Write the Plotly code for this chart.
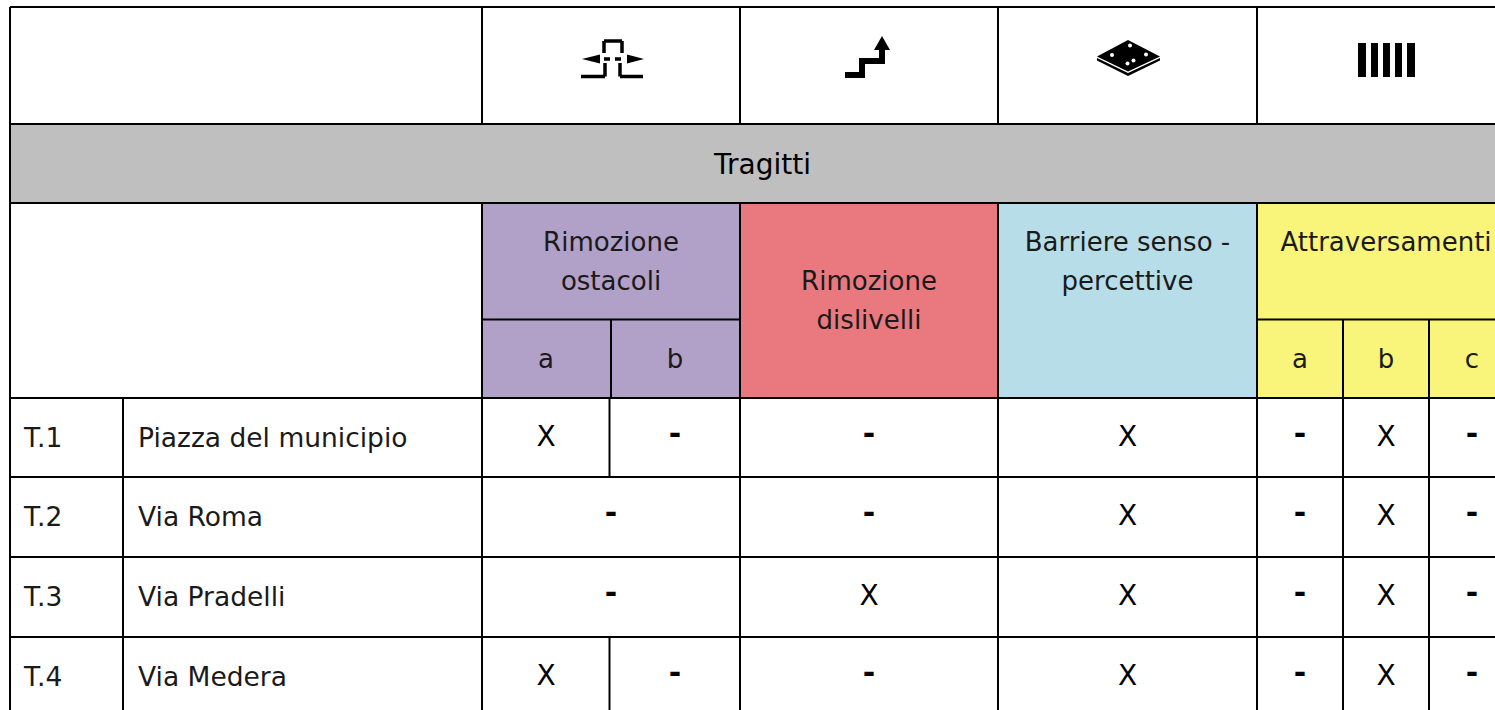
import plotly.graph_objects as go

# ---------- data ----------
section_title = "Tragitti"
row_ids = ["T.1", "T.2", "T.3", "T.4"]
row_names = ["Piazza del municipio", "Via Roma", "Via Pradelli", "Via Medera"]
ostacoli_a = ["X", None, None, "X"]
ostacoli_b = ["-", None, None, "-"]
ostacoli_merged = [None, "-", "-", None]
dislivelli = ["-", "-", "X", "-"]
senso = ["X", "X", "X", "X"]
attr_a = ["-", "-", "-", "-"]
attr_b = ["X", "X", "X", "X"]
attr_c = ["-", "-", "-", "-"]

# ---------- layout geometry (pixels) ----------
W, H = 1495, 710
X = dict(l=10, id=123, o=482, om=609.5, d=740, s=998, a=1257, ab=1343, bc=1429, r=1515)
Y = dict(t=7, h1=124, h2=203, sub=319.5, h3=398, r1=477, r2=557, r3=637, b=720)
row_y = [437, 516.5, 596, 676]

BODY = "DejaVu Sans"
HEAD = "DejaVu Sans"
BODY_SIZE = 26.5
HEAD_SIZE = 26

shapes = []


def rect(x0, y0, x1, y1, fill):
    shapes.append(dict(type="rect", x0=x0, y0=y0, x1=x1, y1=y1, fillcolor=fill,
                       line=dict(width=0), layer="below"))


def line(x0, y0, x1, y1, w=2, color="#000000"):
    shapes.append(dict(type="line", x0=x0, y0=y0, x1=x1, y1=y1,
                       line=dict(color=color, width=w), layer="above"))


def path(d, fill="#000000", stroke=None, w=0):
    shapes.append(dict(type="path", path=d, fillcolor=fill,
                       line=dict(color=stroke or "rgba(0,0,0,0)", width=w), layer="above"))


# fills
rect(X["l"], Y["h1"], X["r"], Y["h2"], "#BFBFBF")
rect(X["o"], Y["h2"], X["d"], Y["h3"], "#B1A0C7")
rect(X["d"], Y["h2"], X["s"], Y["h3"], "#E9797F")
rect(X["s"], Y["h2"], X["a"], Y["h3"], "#B7DEE8")
rect(X["a"], Y["h2"], X["r"], Y["h3"], "#F9F47A")

# horizontal rules
for yy in (Y["t"], Y["h1"], Y["h2"], Y["h3"], Y["r1"], Y["r2"], Y["r3"]):
    line(X["l"], yy, X["r"], yy)
line(X["o"], Y["sub"], X["d"], Y["sub"])
line(X["a"], Y["sub"], X["r"], Y["sub"])

# vertical rules
line(X["l"], Y["t"], X["l"], Y["b"])
line(X["o"], Y["t"], X["o"], Y["h1"])
line(X["d"], Y["t"], X["d"], Y["h1"])
line(X["s"], Y["t"], X["s"], Y["h1"])
line(X["a"], Y["t"], X["a"], Y["h1"])
for xx in (X["o"], X["d"], X["s"], X["a"]):
    line(xx, Y["h2"], xx, Y["b"])
line(X["id"], Y["h3"], X["id"], Y["b"])
line(611, Y["sub"], 611, Y["h3"])
line(X["om"], Y["h3"], X["om"], Y["r1"])
line(X["om"], Y["r3"], X["om"], Y["b"])
for xx in (X["ab"], X["bc"]):
    line(xx, Y["sub"], xx, Y["b"])

# icon 1: obstacle removal
for a, b, c, d in [(581, 76.5, 605, 76.5), (605, 76.5, 605, 63), (620, 76.5, 643, 76.5), (620, 76.5, 620, 63),
                   (604, 53, 604, 41), (604, 41, 622, 41), (622, 41, 622, 53),
                   (604, 59, 610, 59), (615, 59, 621, 59)]:
    line(a, b, c, d, w=3.5)
path("M 582 59 L 600 54.5 L 600 63.5 Z")
path("M 644 59 L 627 54.5 L 627 63.5 Z")

# icon 2: stairs with arrow
path("M 845 75 L 862 75 L 862 61 L 882 61 L 882 48", fill="rgba(0,0,0,0)", stroke="#000000", w=6)
path("M 882 36 L 890 50 L 874 50 Z")

# icon 3: tactile paving
path("M 1128 40 L 1160 56.5 L 1128 71.5 L 1097 56.5 Z")
path("M 1097 58 L 1128 73 L 1160 58 L 1160 60.5 L 1128 76 L 1097 60.5 Z")
for cx, cy in [(1130, 45.5), (1112, 55), (1146, 54.5), (1133.5, 60.5), (1127.5, 63.5)]:
    shapes.append(dict(type="circle", x0=cx - 2, x1=cx + 2, y0=cy - 2, y1=cy + 2,
                       fillcolor="#FFFFFF", line=dict(width=0), layer="above"))

# icon 4: zebra crossing
for x0, x1 in [(1358, 1366), (1371, 1378), (1383, 1390), (1395, 1402), (1407, 1415)]:
    shapes.append(dict(type="rect", x0=x0, x1=x1, y0=43, y1=77, fillcolor="#000000",
                       line=dict(width=0), layer="above"))

fig = go.Figure()


def add_text(xs, ys, texts, size=BODY_SIZE, family=BODY, color="#1a1a1a", weight=400, pos="middle center"):
    kept = [(a, b, t) for a, b, t in zip(xs, ys, texts) if t is not None]
    fig.add_trace(go.Scatter(
        x=[k[0] for k in kept], y=[k[1] for k in kept], text=[k[2] for k in kept],
        mode="text", textposition=pos, hoverinfo="skip", showlegend=False,
        cliponaxis=True,
        textfont=dict(family=family, size=size, color=color, weight=weight)))


# section title
add_text([762.5], [167], [section_title], size=28, color="#000000")

# header labels
add_text([611, 611, 869, 869, 1127.5, 1127.5, 1386],
         [244, 283, 283, 322, 244, 283, 244],
         ["Rimozione", "ostacoli", "Rimozione", "dislivelli", "Barriere senso -", "percettive", "Attraversamenti"],
         size=HEAD_SIZE, family=HEAD)
add_text([546, 675, 1300, 1386, 1472], [361] * 5, ["a", "b", "a", "b", "c"], size=HEAD_SIZE, family=HEAD)

# rows: ids & names
add_text([24] * 4, [v + 3 for v in row_y], row_ids, pos="middle right")
add_text([138] * 4, [v + 3 for v in row_y], row_names, pos="middle right")

# matrix
for cx, col in [(546, ostacoli_a), (675, ostacoli_b), (611, ostacoli_merged), (869, dislivelli), (1127.5, senso),
                (1300, attr_a), (1386, attr_b), (1472, attr_c)]:
    add_text([cx] * 4, [v + 1.5 for v in row_y], [t if t == "X" else None for t in col], size=28, color="#000000")
    add_text([cx] * 4, [v - 1 for v in row_y], [t if t == "-" else None for t in col],
             size=30, weight=700, color="#000000")

fig.update_layout(
    width=W, height=H, margin=dict(l=0, r=0, t=0, b=0),
    paper_bgcolor="#FFFFFF", plot_bgcolor="#FFFFFF", showlegend=False, shapes=shapes,
    xaxis=dict(range=[0, W], visible=False, fixedrange=True),
    yaxis=dict(range=[H, 0], visible=False, fixedrange=True),
)
fig.write_html("out.html", config=dict(displayModeBar=False),
               post_script="document.body.style.margin='0';document.documentElement.style.overflow='hidden';")
